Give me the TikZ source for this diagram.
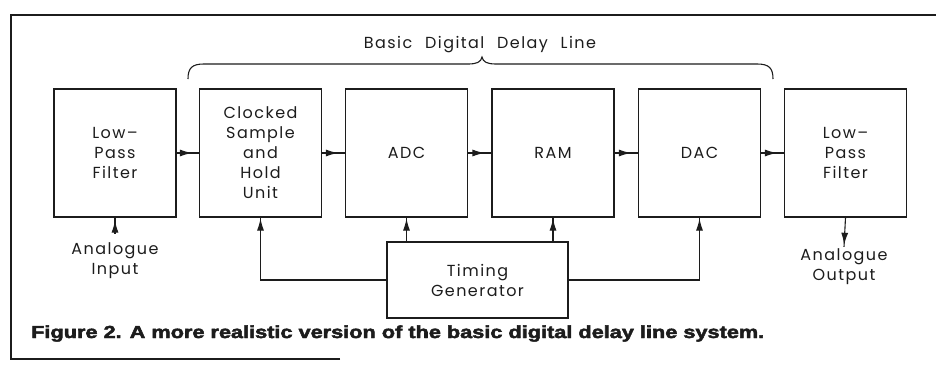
\documentclass[tikz,border=0pt]{standalone}
\usepackage{fontspec}
\setmainfont{Poppins}[LetterSpace=9]
\newfontfamily\capfont{Liberation Sans}[BoldFeatures={FakeBold=2.5}]
\usepackage{tikz}
\usetikzlibrary{arrows.meta,decorations.markings,positioning}
\definecolor{ink}{HTML}{1C1C1C}

\tikzset{
  block/.style={draw=ink,line width=1.1pt,minimum width=122pt,minimum height=128pt,
    inner sep=0pt,align=center,font=\fontsize{16}{20}\selectfont},
  lbl/.style={inner sep=0pt,align=center,font=\fontsize{16}{20}\selectfont},
  wire/.style={draw=ink,line width=1.1pt},
  tip/.style={decoration={markings,mark=at position #1 with {\arrow{Latex[length=12pt,width=7pt]}}},
    postaction={decorate}},
  tip/.default=-6pt
}

\begin{document}
\begin{tikzpicture}[x=1pt,y=-1pt,ink]
        \useasboundingbox (0,0) rectangle (936,370);
        % frame
        \draw[line width=2.4pt] (340,359) -- (11,359) -- (11,15) -- (936,15);
        % blocks
        \node[block] (lpfin) at (115,153) {Low--\\Pass\\Filter};
        \node[block] (snh) at (260.5,153) {Clocked\\Sample\\and\\Hold\\Unit};
        \node[block] (adc) at (406.5,153) {ADC};
        \node[block] (ram) at (553,153) {RAM};
        \node[block] (dac) at (699.5,153) {DAC};
        \node[block] (lpfout) at (845.5,153) {Low--\\Pass\\Filter};
        \node[block,minimum width=181pt,minimum height=76pt] (tim) at (477.5,280) {Timing\\Generator};
        % signal path
        \draw[wire,tip=-7pt] (lpfin.east) -- (snh.west);
        \draw[wire,tip=-7pt] (snh.east) -- (adc.west);
        \draw[wire,tip=-7pt] (adc.east) -- (ram.west);
        \draw[wire,tip=-7pt] (ram.east) -- (dac.west);
        \draw[wire,tip=-7pt] (dac.east) -- (lpfout.west);
        % input and output
        \node[lbl] (in) at (115,261) {Analogue\\Input};
        \node[lbl] (out) at (844,267) {Analogue\\Output};
        \draw[wire,tip=-3pt] ([yshift=9pt]in.north) -- (lpfin.south);
        \draw[wire,tip=-2pt] (lpfout.south) -- ([yshift=2pt]out.north);
        % clock lines
        \draw[wire,tip=-1pt] (tim.west) -| (snh.south);
        \draw[wire,tip=-1pt] (adc.south |- tim.north) -- (adc.south);
        \draw[wire,tip=-1pt] (ram.south |- tim.north) -- (ram.south);
        \draw[wire,tip=-1pt] (tim.east) -| (dac.south);
        % brace over the delay line
        \draw[wire] (188,79) .. controls (188,68) and (192,64) .. (204,64) -- (468,64)
          .. controls (477,64) and (481,62) .. (482,57)
          .. controls (483,62) and (487,64) .. (496,64) -- (757,64)
          .. controls (769,64) and (773,68) .. (773,79);
        \node[lbl,anchor=base] (title) at (480,48) {Basic\hspace{0.8em}Digital\hspace{0.8em}Delay\hspace{0.8em}Line};
        % caption
        \node[inner sep=0pt,anchor=base west] (cap) at (31,338)
          {\resizebox{733pt}{12.6pt}{\capfont\bfseries Figure 2. A more realistic version of the basic digital delay line system.}};
      \end{tikzpicture}
\end{document}
